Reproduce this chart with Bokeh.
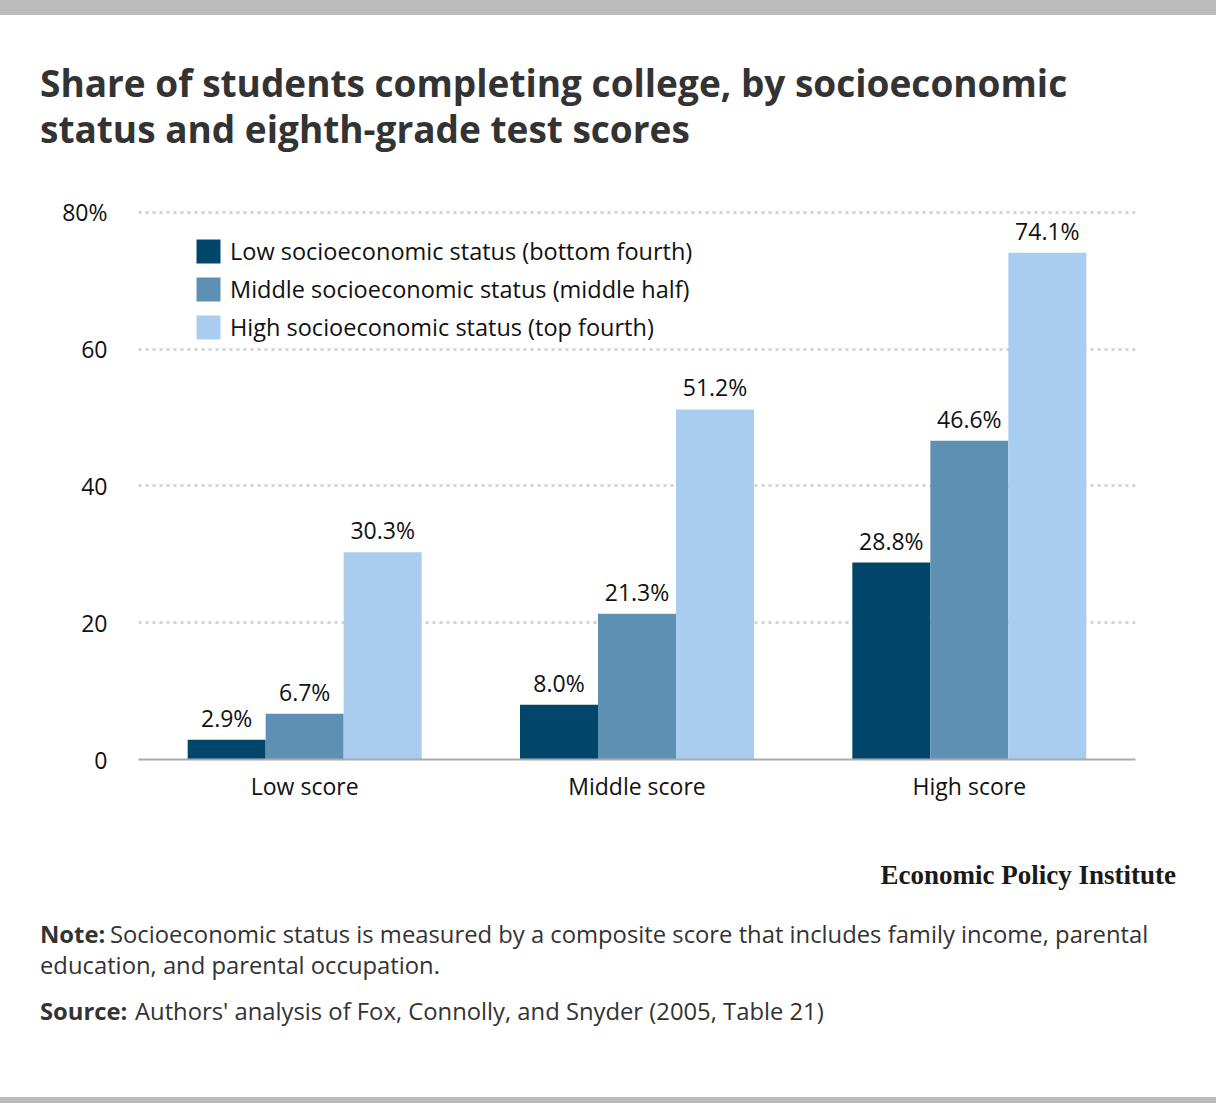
import html
from bokeh.plotting import figure
from bokeh.layouts import column
from bokeh.models import (FactorRange, Range1d, Legend, LegendItem, Div,
                          ColumnDataSource, FixedTicker)
from bokeh.transform import dodge
from bokeh.embed import file_html
from bokeh.resources import INLINE
from bokeh.core.properties import value

# ---------------- data ----------------
categories = ["Low score", "Middle score", "High score"]
low_ses = [2.9, 8.0, 28.8]
mid_ses = [6.7, 21.3, 46.6]
high_ses = [30.3, 51.2, 74.1]
series_names = ["Low socioeconomic status (bottom fourth)",
                "Middle socioeconomic status (middle half)",
                "High socioeconomic status (top fourth)"]
y_ticks = [0, 20, 40, 60, 80]
y_tick_labels = ["0", "20", "40", "60", "80%"]

title_lines = ["Share of students completing college, by socioeconomic",
               "status and eighth-grade test scores"]
note_head = "Note:"
note_lines = ["Socioeconomic status is measured by a composite score that includes family income, parental",
              "education, and parental occupation."]
source_head = "Source:"
source_text = "Authors' analysis of Fox, Connolly, and Snyder (2005, Table 21)"
brand = "Economic Policy Institute"

# ---------------- style ----------------
colors = ["#00466a", "#5e90b4", "#a9cdee"]
FONT = "Open Sans"
W = 1216
HEAD_H, CHART_H, FOOT_H = 180, 650, 273
FRAME_L, FRAME_W = 138, 997
FRAME_TOP, FRAME_H = 28, 551          # inside chart figure
Y_MAX = 80.585
BAR_W = 0.2347
BAND = "#bbbbbb"

OPEN_SANS_M = (1.069, 0.293)
SERIF_M = (0.891, 0.216)


def span(txt, x, base, size, bold=False, family="'Open Sans'", color="#333333",
         metrics=OPEN_SANS_M, right=None):
    asc, desc = metrics
    top = base - (0.5 + (asc - desc) / 2) * size
    pos = f"left:{x}px;" if right is None else f"right:{right}px;"
    return (f'<span style="position:absolute;{pos}top:{top:.1f}px;font-family:{family};'
            f'font-size:{size}px;line-height:1;font-weight:{700 if bold else 400};'
            f'color:{color};white-space:nowrap;">{html.escape(txt)}</span>')


def band(top, h):
    return (f'<div style="position:absolute;left:0;top:{top}px;width:{W}px;height:{h}px;'
            f'background:{BAND};"></div>')


def box(content, h):
    return Div(text=f'<div style="position:relative;width:{W}px;height:{h}px;overflow:hidden;'
                    f'margin:0;padding:0;">{content}</div>',
               width=W, height=h, margin=(0, 0, 0, 0))


# ---------------- header ----------------
head = box(band(0, 15)
           + span(title_lines[0], 40, 97, 37, bold=True)
           + span(title_lines[1], 40, 143, 37, bold=True), HEAD_H)

# ---------------- chart ----------------
src = ColumnDataSource(dict(
    cat=categories,
    low=low_ses, mid=mid_ses, high=high_ses,
    low_t=[f"{v:.1f}%" for v in low_ses],
    mid_t=[f"{v:.1f}%" for v in mid_ses],
    high_t=[f"{v:.1f}%" for v in high_ses],
))

p = figure(x_range=FactorRange(*categories), y_range=Range1d(0, Y_MAX),
           width=W, height=CHART_H,
           frame_width=FRAME_W, frame_height=FRAME_H,
           min_border_left=FRAME_L, min_border_right=W - FRAME_L - FRAME_W,
           min_border_top=FRAME_TOP, min_border_bottom=CHART_H - FRAME_TOP - FRAME_H,
           output_backend="svg", toolbar_location=None,
           outline_line_color=None, border_fill_color="white",
           background_fill_color="white")

p.xgrid.grid_line_color = None
p.ygrid.ticker = FixedTicker(ticks=y_ticks)
p.ygrid.grid_line_color = "#d3d3d3"
p.ygrid.grid_line_width = 3
p.ygrid.grid_line_dash = "3 4"

renderers = []
for key, off, col in zip(["low", "mid", "high"], [-BAR_W, 0, BAR_W], colors):
    r = p.vbar(x=dodge("cat", off, range=p.x_range), top=key, width=BAR_W,
               source=src, fill_color=col, line_color=None)
    renderers.append(r)
    p.text(x=dodge("cat", off, range=p.x_range), y=key, text=key + "_t",
           source=src, y_offset=-22, text_align="center",
           text_baseline="alphabetic", text_font=value(FONT),
           text_font_size="23px", text_color="#111111")

xa = p.xaxis[0]
xa.axis_line_color = "#aaaaaa"
xa.axis_line_width = 2
xa.major_tick_line_color = None
xa.minor_tick_line_color = None
xa.major_tick_out = 0
xa.major_tick_in = 0
xa.major_label_text_font = FONT
xa.major_label_text_font_size = "23px"
xa.major_label_text_color = "#111111"
xa.major_label_standoff = 10

ya = p.yaxis[0]
ya.ticker = FixedTicker(ticks=y_ticks)
ya.major_label_overrides = {t: l for t, l in zip(y_ticks, y_tick_labels)}
ya.axis_line_color = None
ya.major_tick_line_color = None
ya.minor_tick_line_color = None
ya.major_tick_out = 0
ya.major_tick_in = 0
ya.major_label_text_font = FONT
ya.major_label_text_font_size = "23px"
ya.major_label_text_color = "#111111"
ya.major_label_standoff = 31

legend = Legend(items=[LegendItem(label=n, renderers=[r]) for n, r in zip(series_names, renderers)],
                location=(55, 416), orientation="vertical",
                glyph_width=30, glyph_height=30, label_height=30, label_width=10,
                spacing=6, label_standoff=7, padding=0, margin=0,
                border_line_color=None, background_fill_alpha=0,
                label_text_font=FONT, label_text_font_size="23.5px",
                label_text_color="#111111")
p.add_layout(legend, "center")

# ---------------- footer ----------------
OFF = HEAD_H + CHART_H
NS = 23.8
foot = box(span(brand, 0, 885 - OFF, 27, bold=True, family="'Liberation Serif'",
                color="#1a1a1a", metrics=SERIF_M, right=W - 1176)
           + span(note_head, 40, 944 - OFF, NS, bold=True)
           + span(note_lines[0], 110, 944 - OFF, NS)
           + span(note_lines[1], 40, 975 - OFF, NS)
           + span(source_head, 40, 1021 - OFF, NS, bold=True)
           + span(source_text, 135, 1021 - OFF, NS)
           + band(1097 - OFF, FOOT_H - (1097 - OFF)), FOOT_H)

layout = column(head, p, foot, spacing=0)
open("out.html", "w").write(file_html(layout, INLINE))
